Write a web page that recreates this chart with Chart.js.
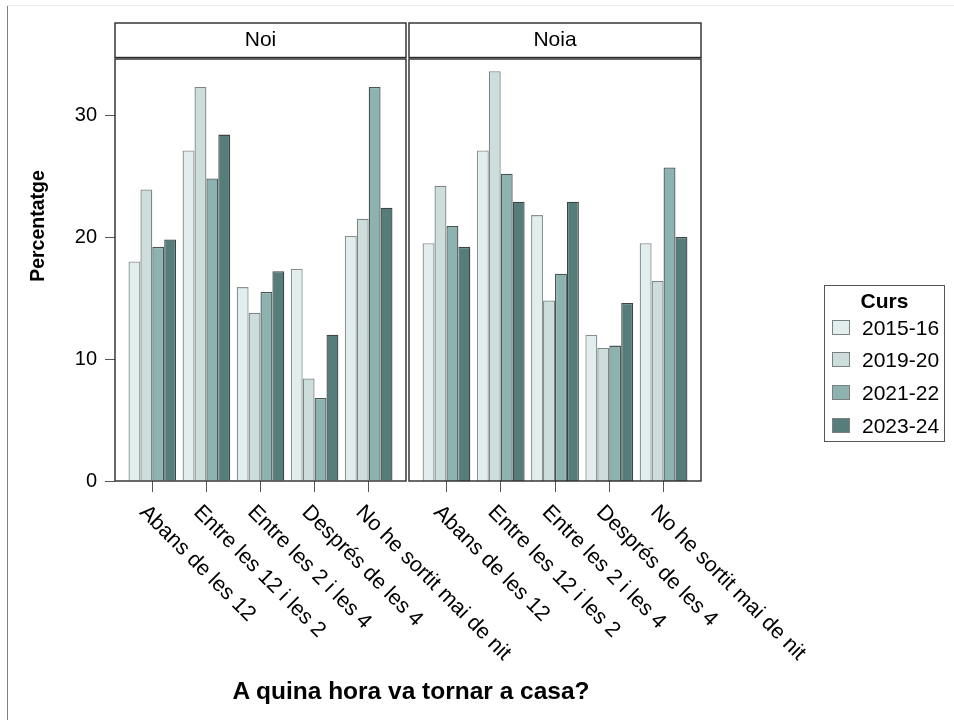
<!DOCTYPE html>
<html lang="ca">
<head>
  <meta charset="UTF-8">
  <title>A quina hora va tornar a casa?</title>
  <script src="https://cdn.jsdelivr.net/npm/chart.js"></script>
  <style>
    body { margin: 0; background: #fff; font-family: "Liberation Sans", Arial, sans-serif; }
    #wrap { position: relative; width: 954px; height: 720px; overflow: hidden; }
    #wrap canvas { position: absolute; left: 0; top: 0; }
    .frameL { position: absolute; left: 7px; top: 5px; width: 1px; height: 715px; background: #7f7f7f; }
    .frameT { position: absolute; left: 7px; top: 5px; width: 947px; height: 1px; background: #eeeeee; }
    #legend { position: absolute; left: 824px; top: 285px; width: 121px; height: 157px; border: 1px solid #555; box-sizing: border-box; }
    #legend .ttl { position: absolute; left: 0; width: 100%; top: 3px; text-align: center; font-weight: bold; font-size: 21px; }
    #legend .it { position: absolute; left: 7px; font-size: 21px; line-height: 24px; }
    #legend .sw { position: absolute; left: 0; top: 4px; width: 18px; height: 15px; box-sizing: border-box; border: 1px solid #7a8080; }
    #legend .tx { position: absolute; left: 30px; top: 0; white-space: nowrap; }
    #xtitle { position: absolute; left: 211px; width: 400px; top: 677px; text-align: center; font-weight: bold; font-size: 24.5px; }
  </style>
</head>
<body>
  <div id="wrap">
    <div class="frameL"></div>
    <div class="frameT"></div>
    <canvas id="panelNoi" width="954" height="720"></canvas>
    <canvas id="panelNoia" width="954" height="720"></canvas>
    <div id="legend"><div class="ttl">Curs</div></div>
    <div id="xtitle">A quina hora va tornar a casa?</div>
  </div>

  <script>
    const categories = ['Abans de les 12', 'Entre les 12 i les 2', 'Entre les 2 i les 4', 'Després de les 4', 'No he sortit mai de nit'];
    const courses = ['2015-16', '2019-20', '2021-22', '2023-24'];
    const panels = ['Noi', 'Noia'];

    // percentatges, noi
    const noi1516 = [18.0, 27.1, 15.9, 17.4, 20.1];
    const noi1920 = [23.9, 32.3, 13.8, 8.4, 21.5];
    const noi2122 = [19.2, 24.8, 15.5, 6.8, 32.3];
    const noi2324 = [19.8, 28.4, 17.2, 12.0, 22.4];

    // percentatges, noia
    const noia1516 = [19.5, 27.1, 21.8, 12.0, 19.5];
    const noia1920 = [24.2, 33.6, 14.8, 10.9, 16.4];
    const noia2122 = [20.9, 25.2, 17.0, 11.1, 25.7];
    const noia2324 = [19.2, 22.9, 22.9, 14.6, 20.0];

    const yTicks = [0, 10, 20, 30];

    const fills = ['#e2eeee', '#cddddc', '#8cb3b0', '#577d7a'];
    const borders = ['#8a9292', '#7c8686', '#4a5656', '#3a4646'];

    const FONT = '"Liberation Sans", Arial, sans-serif';

    function makeSets(series) {
      return series.map((vals, s) => ({
        label: courses[s],
        data: vals.map((v, i) => ({ x: i + 1, y: v })),
        backgroundColor: fills[s],
        borderColor: borders[s],
        borderWidth: 1.3,
        categoryPercentage: 0.88,
        barPercentage: 1
      }));
    }

    // caixa del panell, franja amb el nom i etiquetes girades
    const facetPlugin = {
      id: 'facet',
      afterDraw(chart) {
        const ctx = chart.ctx;
        const a = chart.chartArea;
        const xs = chart.scales.x;
        const opts = chart.options.plugins.facet;
        ctx.save();
        ctx.strokeStyle = '#2a2a2a';
        ctx.lineWidth = 1.4;
        ctx.strokeRect(a.left, a.top, a.right - a.left, a.bottom - a.top);
        ctx.fillStyle = '#fff';
        ctx.fillRect(a.left, 23, a.right - a.left, 34.5);
        ctx.strokeRect(a.left, 23, a.right - a.left, 34.5);
        ctx.fillStyle = '#000';
        ctx.font = '21px ' + FONT;
        ctx.textAlign = 'center';
        ctx.textBaseline = 'middle';
        ctx.fillText(opts.name, (a.left + a.right) / 2, 40.5);

        if (opts.first) {
          ctx.save();
          ctx.font = 'bold 19.5px ' + FONT;
          ctx.translate(39, 226);
          ctx.rotate(-Math.PI / 2);
          ctx.fillText('Percentatge', 0, 0);
          ctx.restore();
        }

        ctx.font = '21.5px ' + FONT;
        ctx.textAlign = 'left';
        categories.forEach((c, i) => {
          const x = xs.getPixelForValue(i + 1);
          ctx.save();
          ctx.translate(x - 9.5, a.bottom + 28);
          ctx.rotate(Math.PI / 4);
          ctx.fillText(c, 0, 0);
          ctx.restore();
        });
        ctx.restore();
      }
    };

    function makeChart(id, name, series, first) {
      return new Chart(document.getElementById(id), {
        type: 'bar',
        data: { datasets: makeSets(series) },
        options: {
          responsive: false,
          animation: false,
          layout: { padding: first ? { left: 0, right: 548, top: 59, bottom: 0 } : { left: 409, right: 253, top: 59, bottom: 0 } },
          plugins: {
            legend: { display: false },
            tooltip: { enabled: false },
            facet: { name: name, first: first }
          },
          scales: {
            x: {
              type: 'linear',
              offset: false,
              min: 0.31,
              max: 5.69,
              afterFit: s => { s.height = 239; },
              ticks: { display: false, stepSize: 1, includeBounds: false },
              border: { display: false },
              grid: { offset: false, drawOnChartArea: false, drawTicks: true, tickLength: 11, color: '#555', lineWidth: 1 }
            },
            y: {
              display: first,
              min: 0,
              max: 34.6,
              afterFit: s => { s.width = first ? 115 : 0; },
              afterBuildTicks: s => { s.ticks = yTicks.map(v => ({ value: v })); },
              ticks: { color: '#000', font: { family: FONT, size: 20 }, padding: 8 },
              border: { display: false },
              grid: { drawOnChartArea: false, drawTicks: true, tickLength: 10, color: '#555' }
            }
          }
        },
        plugins: [facetPlugin]
      });
    }

    makeChart('panelNoi', panels[0], [noi1516, noi1920, noi2122, noi2324], true);
    makeChart('panelNoia', panels[1], [noia1516, noia1920, noia2122, noia2324], false);

    // llegenda
    const legend = document.getElementById('legend');
    const rowTops = [30, 62, 95, 128];
    courses.forEach((c, i) => {
      const it = document.createElement('div');
      it.className = 'it';
      it.style.top = rowTops[i] + 'px';
      it.innerHTML = '<div class="sw" style="background:' + fills[i] + '"></div><div class="tx">' + c + '</div>';
      legend.appendChild(it);
    });
  </script>
</body>
</html>
